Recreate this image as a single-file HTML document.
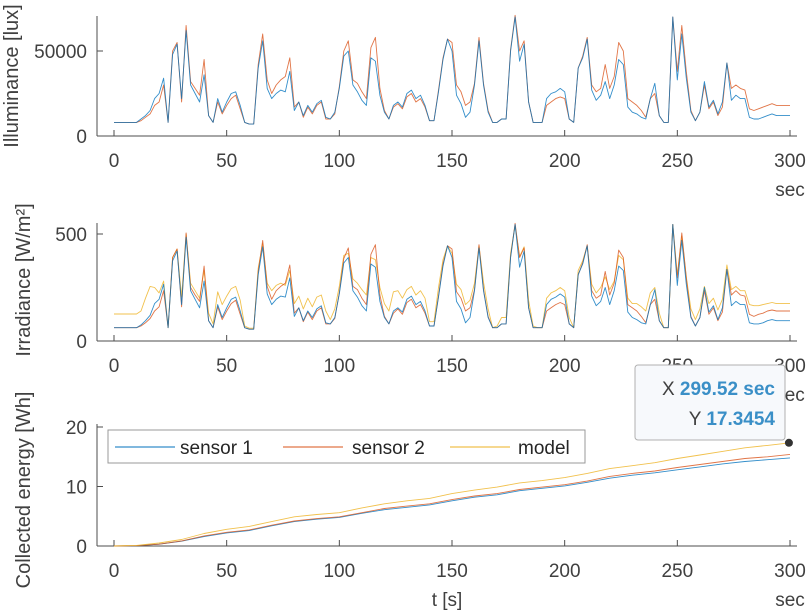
<!DOCTYPE html>
<html><head><meta charset="utf-8"><style>
html,body{margin:0;padding:0;background:#fff;}
svg{display:block;font-family:"Liberation Sans",Arial,sans-serif;}
</style></head><body>
<svg id="c" width="808" height="611" viewBox="0 0 808 611" xmlns="http://www.w3.org/2000/svg"></svg>
<script>
// illuminance in thousands of lux
const illum1=[8,8,8,8,8,8,10,12,15,22,25,34,8,48,54,22,62,30,25,20,36,12,8,22,14,20,25,26,18,8,7,7,40,56,28,22,25,27,26,38,15,20,12,18,14,19,21,11,10,14,28,47,50,30,26,21,18,46,44,24,14,10,18,20,17,25,27,22,24,18,9,9,26,45,57,50,24,19,11,14,30,56,30,14,8,8,10,10,50,70,44,54,20,8,8,8,22,25,26,28,26,10,8,40,46,57,27,21,24,32,22,30,45,42,17,14,13,11,10,22,31,12,8,8,70,33,60,34,14,9,14,32,17,21,13,20,43,21,24,22,22,11,10,10,11,12,13,12,12,12,12];
const illum2=[8,8,8,8,8,8,9,11,13,18,20,30,8,50,55,20,65,32,28,24,45,12,8,20,13,18,22,24,16,8,7,7,42,60,33,25,30,33,35,46,17,20,11,17,13,18,20,10,10,13,29,50,56,33,31,26,22,52,58,28,15,10,17,19,16,23,25,20,22,17,9,9,27,46,57,55,30,26,18,20,31,58,31,15,8,8,10,10,51,71,50,56,20,8,8,8,18,20,22,23,22,10,8,40,47,58,30,26,28,42,28,35,55,50,22,20,18,15,11,22,25,12,8,8,70,38,65,38,15,9,14,30,16,20,12,17,43,28,30,28,27,16,15,16,17,18,19,18,18,18,18];
const irr1=[62,62,62,62,62,62,75,95,120,175,195,265,62,375,420,170,485,235,195,155,280,95,62,170,110,155,195,205,140,62,55,55,310,440,220,170,195,210,205,295,115,155,95,140,110,150,165,85,80,110,220,365,390,235,205,165,140,360,345,185,110,80,140,155,135,195,210,170,185,140,70,70,205,350,445,390,185,150,85,110,235,435,235,110,62,62,80,80,390,545,345,420,155,62,62,62,170,195,205,220,205,80,62,310,360,445,210,165,185,250,170,235,350,330,135,110,100,85,80,170,240,95,62,62,545,260,470,265,110,70,110,250,135,165,100,155,335,165,185,170,170,85,80,80,85,95,100,95,95,95,95];
const irr2=[62,62,62,62,62,62,70,85,105,140,160,235,62,390,430,160,505,250,215,185,350,95,62,160,100,140,175,190,125,62,55,55,325,470,255,195,235,255,270,355,130,155,90,135,100,140,155,80,80,105,225,385,435,255,240,200,170,405,450,215,115,80,130,150,125,180,195,155,170,130,70,70,210,360,445,430,230,200,140,155,240,450,240,115,62,62,80,80,395,550,390,435,155,62,62,62,140,155,170,180,170,80,62,310,365,450,235,200,215,325,215,270,425,390,170,155,140,115,85,170,195,95,62,62,545,295,505,295,115,70,110,235,125,155,95,135,335,215,235,215,210,125,115,125,130,140,145,140,140,140,140];
const irrM=[126,126,126,126,126,126,140,200,255,250,225,280,62,390,430,205,500,270,235,200,330,130,80,230,170,210,245,255,190,70,60,60,340,455,270,235,260,270,260,330,175,210,150,200,160,205,215,140,100,150,255,400,410,290,270,240,215,390,380,250,175,140,230,235,200,240,255,215,235,200,90,90,250,380,445,410,265,240,170,190,270,445,275,150,62,70,110,110,410,540,395,440,190,70,62,62,200,225,235,250,235,110,62,330,375,445,265,225,250,300,240,280,400,380,200,175,175,160,140,225,250,130,62,62,545,310,490,300,150,100,150,255,175,200,145,195,355,240,255,235,235,170,165,165,170,175,180,175,175,175,175];
const e1=[0,0.05,0.3,0.8,1.6,2.2,2.6,3.4,4.1,4.5,4.8,5.5,6.1,6.5,6.9,7.6,8.2,8.6,9.3,9.7,10.1,10.7,11.4,11.9,12.3,12.8,13.3,13.8,14.2,14.5,14.8];
const e2=[0,0.05,0.3,0.85,1.7,2.3,2.7,3.5,4.2,4.6,4.9,5.6,6.3,6.7,7.1,7.8,8.4,8.8,9.5,9.9,10.3,10.9,11.7,12.2,12.6,13.2,13.7,14.2,14.7,15.0,15.4];
const eM=[0,0.1,0.5,1.1,2.1,2.8,3.3,4.1,4.9,5.3,5.6,6.4,7.1,7.6,8.0,8.8,9.4,9.9,10.6,11.0,11.5,12.2,13.0,13.5,14.0,14.7,15.3,15.9,16.5,16.9,17.35];
const xTicks=[0,50,100,150,200,250,300];
const y1Ticks=[0,50000];
const y2Ticks=[0,500];
const y3Ticks=[0,10,20];

const NS="http://www.w3.org/2000/svg";
const svg=document.getElementById('c');
function mk(tag,attrs,parent){const e=document.createElementNS(NS,tag);for(const k in attrs)e.setAttribute(k,attrs[k]);(parent||svg).appendChild(e);return e;}
const X0=114,XS=676/300,AXL=97,AXR=797;
function xp(t){return X0+t*XS;}
const panels=[
 {y0:136,top:16,s:85/50,div:1000,yt:y1Ticks,lab:"Illuminance [lux]",lx:18,ly:76,name:"illuminance"},
 {y0:341,top:223,s:107/500,div:1,yt:y2Ticks,lab:"Irradiance [W/m²]",lx:30,ly:280,name:"irradiance"},
 {y0:546,top:424,s:5.95,div:1,yt:y3Ticks,lab:"Collected energy [Wh]",lx:30,ly:490,name:"energy"}
];
const COL=["#0072BD","#D95319","#EDB120"];
function series(arr,p,col,name){
 const n=arr.length;let d="";
 arr.forEach((v,i)=>{const t=i*300/(n-1);d+=(i?"L":"M")+xp(t).toFixed(1)+" "+(p.y0-v*p.s).toFixed(1);});
 const e=mk('path',{d:d,fill:"none",stroke:col,"stroke-width":0.9,"stroke-opacity":0.8,"stroke-linejoin":"round"});
 
 
}
panels.forEach((p,pi)=>{
 const g=mk('g',{});
 
 
 mk('line',{x1:AXL,y1:p.top,x2:AXL,y2:p.y0,stroke:"#4d4d4d","stroke-width":1},g);
 mk('line',{x1:AXL,y1:p.y0,x2:AXR,y2:p.y0,stroke:"#4d4d4d","stroke-width":1},g);
 xTicks.forEach(t=>{
  mk('line',{x1:xp(t),y1:p.y0,x2:xp(t),y2:p.y0-6,stroke:"#4d4d4d"},g);
  const tx=mk('text',{x:xp(t),y:p.y0+31,"text-anchor":"middle","font-size":19,fill:"#404040"},g);tx.textContent=t;
  
  
 });
 p.yt.forEach(v=>{
  const y=p.y0-(v/p.div)*p.s;
  mk('line',{x1:AXL,y1:y,x2:AXL+6,y2:y,stroke:"#4d4d4d"},g);
  const tx=mk('text',{x:AXL-10,y:y+7,"text-anchor":"end","font-size":19,fill:"#404040"},g);tx.textContent=v;
  
  
 });
 const yl=mk('text',{x:p.lx,y:p.ly,"text-anchor":"middle","font-size":20,fill:"#404040",transform:`rotate(-90 ${p.lx} ${p.ly})`},g);
 yl.textContent=p.lab;
 
 
 const sc=mk('text',{x:790,y:p.y0+60,"text-anchor":"middle","font-size":19,fill:"#404040"},g);sc.textContent="sec";
 
 
});
series(illum2,panels[0],COL[1],'illuminance-sensor-2');
series(illum1,panels[0],COL[0],'illuminance-sensor-1');
series(irrM,panels[1],COL[2],'irradiance-model');
series(irr2,panels[1],COL[1],'irradiance-sensor-2');
series(irr1,panels[1],COL[0],'irradiance-sensor-1');
series(e1,panels[2],COL[0],'energy-sensor-1');
series(e2,panels[2],COL[1],'energy-sensor-2');
series(eM,panels[2],COL[2],'energy-model');
const xt=mk('text',{x:447,y:606,"text-anchor":"middle","font-size":19,fill:"#404040"});xt.textContent="t [s]";


// legend
const lg=mk('g',{});


mk('rect',{x:108,y:430,width:477,height:33,fill:"#fff",stroke:"#999"},lg);
[["sensor 1",115,180],["sensor 2",283,352],["model",450,518]].forEach((e,i)=>{
 mk('line',{x1:e[1],y1:447,x2:e[1]+60,y2:447,stroke:COL[i],"stroke-width":1},lg);
 const t=mk('text',{x:e[2],y:454,"font-size":19,fill:"#262626"},lg);t.textContent=e[0];
 
 
});
// datatip
const dt=mk('g',{});


mk('rect',{x:635,y:365,width:150,height:75,rx:3,fill:"#f7f9fc",stroke:"#b0b0b0"},dt);
const l1=mk('text',{x:775,y:395,"text-anchor":"end","font-size":19,fill:"#404040"},dt);
l1.innerHTML='X <tspan fill="#3a8fc7" font-weight="bold">299.52 sec</tspan>';
const l2=mk('text',{x:775,y:425,"text-anchor":"end","font-size":19,fill:"#404040"},dt);
l2.innerHTML='Y <tspan fill="#3a8fc7" font-weight="bold">17.3454</tspan>';
mk('circle',{cx:xp(299.52),cy:panels[2].y0-eM[eM.length-1]*panels[2].s,r:4,fill:"#333"},dt);
</script>
</body></html>
